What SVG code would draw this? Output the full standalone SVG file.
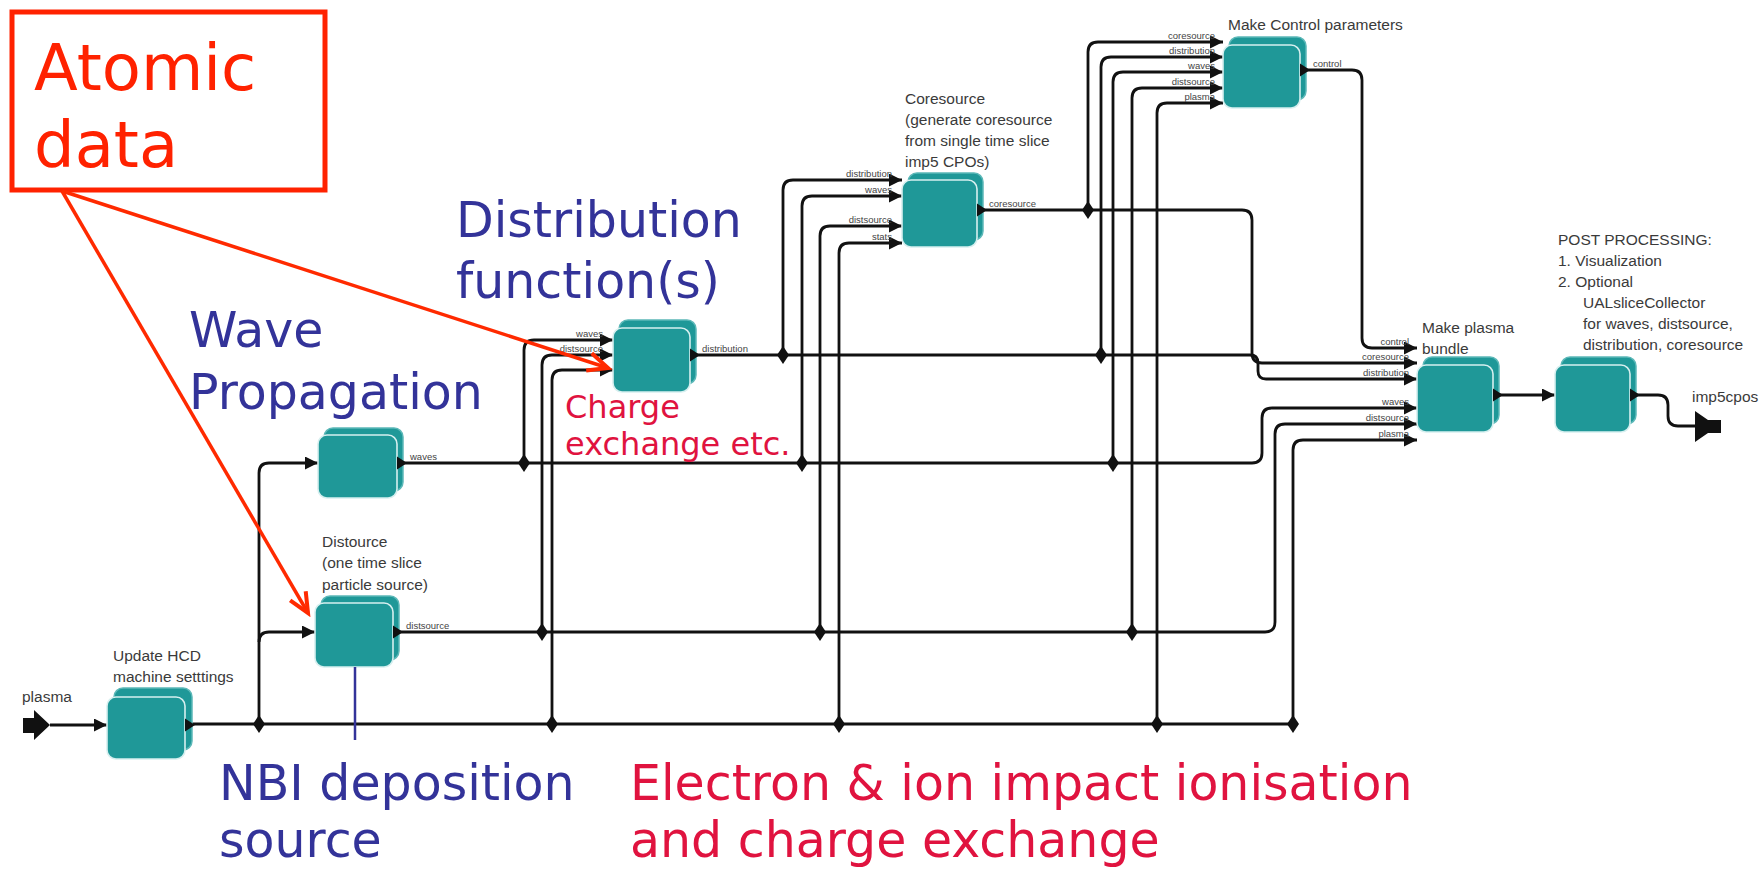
<svg xmlns="http://www.w3.org/2000/svg" width="1764" height="871" viewBox="0 0 1764 871">
<style>
.wire{fill:none;stroke:#111;stroke-width:2.8;stroke-linejoin:round}
.back{fill:#1f9898;stroke:#5cb8b8;stroke-width:1.5}
.front{fill:#1f9898;stroke:#d6efef;stroke-width:1.6}
.title{font-family:"Liberation Sans",Arial,sans-serif;font-size:15.5px;fill:#3a3a3a}
.port{font-family:"Liberation Sans",Arial,sans-serif;font-size:9.5px;fill:#444}
.portr{font-family:"Liberation Sans",Arial,sans-serif;font-size:9.5px;fill:#444;text-anchor:end}
.big{font-family:"DejaVu Sans",Verdana,sans-serif;font-size:49px}
.blue{fill:#333399}
.crim{fill:#e0133f}
.red{fill:#ff2200}
.ratk{fill:none;stroke:#ff2a00;stroke-width:3.5}
</style>
<defs>
<marker id="ah" markerUnits="userSpaceOnUse" markerWidth="13" markerHeight="13" refX="13" refY="6.5" orient="auto"><path d="M0,0 L13,6.5 L0,13 z" fill="#111"/></marker>
<marker id="rah" markerUnits="userSpaceOnUse" markerWidth="30" markerHeight="24" viewBox="0 0 30 24" refX="25" refY="12" orient="auto"><path d="M5,3 L25,12 L5,21" fill="none" stroke="#ff2a00" stroke-width="4"/></marker>
<polygon id="dia" points="0,-9 6,0 0,9 -6,0" fill="#111"/>
<polygon id="otri" points="0,-6.5 10,0 0,6.5" fill="#111"/>
</defs>
<rect width="1764" height="871" fill="#fff"/>

<g id="connectors">
<path class="wire" d="M50,725 H107" marker-end="url(#ah)"/>
<path class="wire" d="M185,724 H1293 V450 Q1293,440 1303,440 H1417" marker-end="url(#ah)"/>
<path class="wire" d="M259,724 V473 Q259,463 269,463 H318" marker-end="url(#ah)"/>
<path class="wire" d="M259,642 Q259,632 269,632 H315" marker-end="url(#ah)"/>
<path class="wire" d="M397,463 H1252 Q1262,463 1262,453 V418 Q1262,408 1272,408 H1417" marker-end="url(#ah)"/>
<path class="wire" d="M393,632 H1265 Q1275,632 1275,622 V434 Q1275,424 1285,424 H1417" marker-end="url(#ah)"/>
<path class="wire" d="M524,463 V350 Q524,340 534,340 H613" marker-end="url(#ah)"/>
<path class="wire" d="M542,632 V365 Q542,355 552,355 H613" marker-end="url(#ah)"/>
<path class="wire" d="M552,724 V380 Q552,370 562,370 H613" marker-end="url(#ah)"/>
<path class="wire" d="M690,355 H1250 Q1258,355 1258,363 V371 Q1258,379 1266,379 H1417" marker-end="url(#ah)"/>
<path class="wire" d="M783,355 V190 Q783,180 793,180 H902" marker-end="url(#ah)"/>
<path class="wire" d="M802,463 V206 Q802,196 812,196 H902" marker-end="url(#ah)"/>
<path class="wire" d="M820,632 V236 Q820,226 830,226 H902" marker-end="url(#ah)"/>
<path class="wire" d="M839,724 V253 Q839,243 849,243 H902" marker-end="url(#ah)"/>
<path class="wire" d="M977,210 H1242 Q1252,210 1252,220 V353 Q1252,363 1262,363 H1417" marker-end="url(#ah)"/>
<path class="wire" d="M1088,210 V52 Q1088,42 1098,42 H1223" marker-end="url(#ah)"/>
<path class="wire" d="M1101,355 V67 Q1101,57 1111,57 H1223" marker-end="url(#ah)"/>
<path class="wire" d="M1113,463 V82 Q1113,72 1123,72 H1223" marker-end="url(#ah)"/>
<path class="wire" d="M1132,632 V98 Q1132,88 1142,88 H1223" marker-end="url(#ah)"/>
<path class="wire" d="M1157,724 V113 Q1157,103 1167,103 H1223" marker-end="url(#ah)"/>
<path class="wire" d="M1300,70 H1352 Q1362,70 1362,80 V338 Q1362,348 1372,348 H1417" marker-end="url(#ah)"/>
<path class="wire" d="M1493,395 H1555" marker-end="url(#ah)"/>
<path class="wire" d="M1630,395 H1658 Q1668,395 1668,405 V416 Q1668,426 1678,426 H1696"/>
<use href="#dia" x="259" y="724"/><use href="#dia" x="552" y="724"/><use href="#dia" x="839" y="724"/><use href="#dia" x="1157" y="724"/><use href="#dia" x="1293" y="724"/>
<use href="#dia" x="542" y="632"/><use href="#dia" x="820" y="632"/><use href="#dia" x="1132" y="632"/>
<use href="#dia" x="524" y="463"/><use href="#dia" x="802" y="463"/><use href="#dia" x="1113" y="463"/>
<use href="#dia" x="783" y="355"/><use href="#dia" x="1101" y="355"/>
<use href="#dia" x="1088" y="210"/>
</g>

<g id="term-plasma">
<polygon points="23,718 34,718 34,710 50,725 34,740 34,733 23,733" fill="#111"/>
<text class="title" x="22" y="702">plasma</text>
</g>
<g id="term-imp5cpos">
<polygon points="1695,411 1708,420 1721,420 1721,433 1708,433 1695,442" fill="#111"/>
<text class="title" x="1692" y="402">imp5cpos</text>
</g>

<g id="node-update-hcd">
<rect class="back" x="114" y="688" width="78" height="62" rx="9"/>
<rect class="front" x="107" y="697" width="78" height="62" rx="9"/>
<use href="#otri" x="185" y="725"/>
<text class="title" x="113" y="661">Update HCD</text>
<text class="title" x="113" y="682">machine setttings</text>
</g>

<g id="node-wave">
<rect class="back" x="324" y="428" width="79" height="63" rx="9"/>
<rect class="front" x="318" y="435" width="79" height="63" rx="9"/>
<use href="#otri" x="397" y="463"/>
<text class="port" x="410" y="460">waves</text>
</g>

<g id="node-distsource">
<rect class="back" x="321" y="596" width="78" height="64" rx="9"/>
<rect class="front" x="315" y="603" width="78" height="64" rx="9"/>
<use href="#otri" x="393" y="632"/>
<text class="port" x="406" y="629">distsource</text>
<text class="title" x="322" y="547">Distource</text>
<text class="title" x="322" y="568">(one time slice</text>
<text class="title" x="322" y="590">particle source)</text>
</g>

<g id="node-distribution">
<rect class="back" x="619" y="320" width="77" height="64" rx="9"/>
<rect class="front" x="613" y="328" width="77" height="64" rx="9"/>
<use href="#otri" x="690" y="355"/>
<text class="port" x="702" y="352">distribution</text>
<text class="portr" x="603" y="337">waves</text>
<text class="portr" x="603" y="352">distsource</text>
</g>

<g id="node-coresource">
<rect class="back" x="908" y="173" width="75" height="67" rx="9"/>
<rect class="front" x="902" y="180" width="75" height="67" rx="9"/>
<use href="#otri" x="977" y="210"/>
<text class="port" x="989" y="207">coresource</text>
<text class="portr" x="892" y="177">distribution</text>
<text class="portr" x="892" y="193">waves</text>
<text class="portr" x="892" y="223">distsource</text>
<text class="portr" x="892" y="240">stats</text>
<text class="title" x="905" y="104">Coresource</text>
<text class="title" x="905" y="125">(generate coresource</text>
<text class="title" x="905" y="146">from single time slice</text>
<text class="title" x="905" y="167">imp5 CPOs)</text>
</g>

<g id="node-make-control">
<rect class="back" x="1229" y="37" width="77" height="63" rx="9"/>
<rect class="front" x="1223" y="45" width="77" height="63" rx="9"/>
<use href="#otri" x="1300" y="70"/>
<text class="port" x="1313" y="67">control</text>
<text class="portr" x="1215" y="39">coresource</text>
<text class="portr" x="1215" y="54">distribution</text>
<text class="portr" x="1215" y="69">waves</text>
<text class="portr" x="1215" y="85">distsource</text>
<text class="portr" x="1215" y="100">plasma</text>
<text class="title" x="1228" y="30">Make Control parameters</text>
</g>

<g id="node-make-plasma">
<rect class="back" x="1423" y="357" width="76" height="67" rx="9"/>
<rect class="front" x="1417" y="365" width="76" height="67" rx="9"/>
<use href="#otri" x="1493" y="395"/>
<text class="portr" x="1409" y="345">control</text>
<text class="portr" x="1409" y="360">coresource</text>
<text class="portr" x="1409" y="376">distribution</text>
<text class="portr" x="1409" y="405">waves</text>
<text class="portr" x="1409" y="421">distsource</text>
<text class="portr" x="1409" y="437">plasma</text>
<text class="title" x="1422" y="333">Make plasma</text>
<text class="title" x="1422" y="354">bundle</text>
</g>

<g id="node-post">
<rect class="back" x="1561" y="357" width="75" height="67" rx="9"/>
<rect class="front" x="1555" y="365" width="75" height="67" rx="9"/>
<use href="#otri" x="1630" y="395"/>
<text class="title" x="1558" y="245">POST PROCESSING:</text>
<text class="title" x="1558" y="266">1. Visualization</text>
<text class="title" x="1558" y="287">2. Optional</text>
<text class="title" x="1583" y="308">UALsliceCollector</text>
<text class="title" x="1583" y="329">for waves, distsource,</text>
<text class="title" x="1583" y="350">distribution, coresource</text>
</g>

<g id="annotations">
<text class="big blue" x="456" y="237">Distribution</text>
<text class="big blue" x="456" y="298">function(s)</text>
<text class="big blue" x="189" y="347">Wave</text>
<text class="big blue" x="189" y="409">Propagation</text>
<text class="big blue" x="219" y="800">NBI deposition</text>
<text class="big blue" x="219" y="857">source</text>
<line x1="355" y1="667" x2="355" y2="740" stroke="#333399" stroke-width="2.5"/>
<text class="big crim" x="630" y="800">Electron &amp; ion impact ionisation</text>
<text class="big crim" x="630" y="857">and charge exchange</text>
<text class="crim" font-family="DejaVu Sans, Verdana, sans-serif" font-size="32" x="565" y="418">Charge</text>
<text class="crim" font-family="DejaVu Sans, Verdana, sans-serif" font-size="32" x="565" y="455">exchange etc.</text>
</g>

<g id="atomic-data">
<rect x="12" y="12" width="313" height="178" fill="#fff" stroke="#ff2200" stroke-width="5"/>
<text class="red" font-family="DejaVu Sans, Verdana, sans-serif" font-size="64" x="34" y="90">Atomic</text>
<text class="red" font-family="DejaVu Sans, Verdana, sans-serif" font-size="64" x="34" y="167">data</text>
<path class="ratk" d="M62,191 L608,368" marker-end="url(#rah)"/>
<path class="ratk" d="M62,191 L308,613" marker-end="url(#rah)"/>
</g>
</svg>
